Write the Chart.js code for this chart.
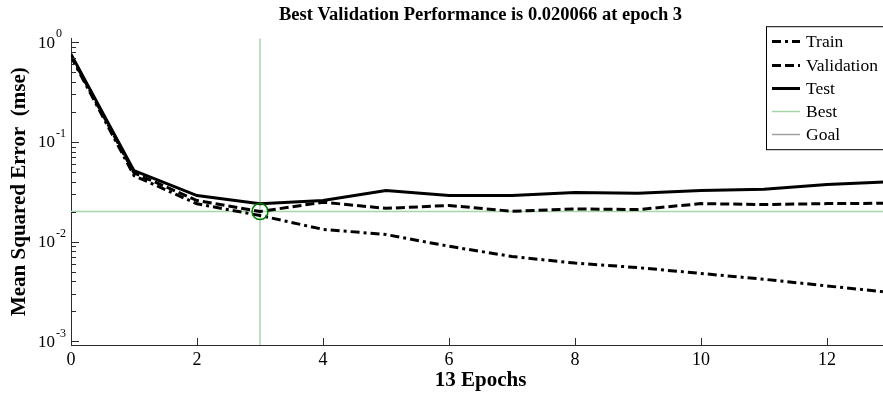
<!DOCTYPE html>
<html>
<head>
<meta charset="utf-8">
<script src="https://cdn.jsdelivr.net/npm/chart.js@4.4.1/dist/chart.umd.min.js"></script>
<style>
    html, body { margin: 0; padding: 0; background: #fff; overflow: hidden; }
    #moldura { position: absolute; left: 0; top: 0; width: 900px; height: 396px; }
</style>
</head>
<body>
<div id="moldura"><canvas id="graficoDesempenho" width="900" height="396"></canvas></div>
<script>
// valores (mse por epoca)
const epocas = [0, 1, 2, 3, 4, 5, 6, 7, 8, 9, 10, 11, 12, 13];
const mseTreino = [0.72, 0.046, 0.024, 0.0183, 0.0133, 0.0118, 0.009, 0.0071, 0.0061, 0.0055, 0.0048, 0.0042, 0.0036, 0.0031];
const mseValidacao = [0.74, 0.049, 0.0259, 0.020066, 0.0249, 0.0216, 0.0231, 0.0202, 0.0213, 0.021, 0.0241, 0.0236, 0.0241, 0.0243];
const mseTeste = [0.76, 0.0516, 0.029, 0.024, 0.0259, 0.0326, 0.029, 0.029, 0.0311, 0.0307, 0.0326, 0.0335, 0.0374, 0.04];
const melhorEpoca = 3;
const melhorDesempenho = 0.020066;
const yTicks = [1, 0.1, 0.01, 0.001];
const xTicks = [0, 2, 4, 6, 8, 10, 12];
const yMin = 0.00092;
const yMax = 1.1;
const xMax = 13;

const serifa = "'Liberation Serif', 'Times New Roman', serif";
const corEixo = '#2b2b2b';

function pontos(valores) {
    return epocas.map((e, i) => ({x: e, y: valores[i]}));
}

// ticks para dentro, rotulos 10^n e legenda com caixa
const pluginEixos = {
    id: 'eixosMatlab',
    afterDraw(chart) {
        const ctx = chart.ctx;
        const area = chart.chartArea;
        const sx = chart.scales.x;
        const sy = chart.scales.y;
        ctx.save();
        ctx.strokeStyle = corEixo;
        ctx.lineWidth = 1;
        ctx.beginPath();
        xTicks.forEach(v => {
            const px = Math.round(sx.getPixelForValue(v)) + 0.5;
            ctx.moveTo(px, area.bottom);
            ctx.lineTo(px, area.bottom - 7);
        });
        for (let d = -3; d <= 0; d++) {
            for (let m = 1; m <= 9; m++) {
                const v = m * Math.pow(10, d);
                if (v < yMin || v > yMax) continue;
                const py = Math.round(sy.getPixelForValue(v)) + 0.5;
                ctx.moveTo(area.left, py);
                ctx.lineTo(area.left + (m === 1 ? 8 : 5), py);
            }
        }
        ctx.stroke();

        ctx.fillStyle = '#000';
        ctx.textBaseline = 'middle';
        ctx.textAlign = 'left';
        yTicks.forEach(v => {
            const py = sy.getPixelForValue(v);
            const exp = Math.round(Math.log10(v));
            ctx.font = '17px ' + serifa;
            ctx.fillText('10', 38, py + 1);
            const w = ctx.measureText('10').width;
            ctx.font = '12px ' + serifa;
            ctx.fillText(String(exp), 38 + w + 1, py - 8);
        });

        // legenda
        const lx = area.right - 124;
        const ly = area.top - 12;
        ctx.fillStyle = '#fff';
        ctx.fillRect(lx, ly, 140, 123);
        ctx.strokeStyle = '#000';
        ctx.lineWidth = 1;
        ctx.strokeRect(lx + 0.5, ly + 0.5, 140, 123);
        const itens = chart.data.datasets.filter(ds => ds.naLegenda);
        itens.forEach((ds, i) => {
            const y = Math.round(ly + 15 + i * 23.3) + 0.5;
            ctx.strokeStyle = ds.borderColor;
            ctx.lineWidth = ds.borderWidth;
            ctx.setLineDash(ds.borderDash || []);
            ctx.beginPath();
            ctx.moveTo(lx + 6, y);
            ctx.lineTo(lx + 34, y);
            ctx.stroke();
            ctx.setLineDash([]);
            ctx.fillStyle = '#000';
            ctx.font = '17.5px ' + serifa;
            ctx.textBaseline = 'middle';
            ctx.fillText(ds.label, lx + 40, y + 1);
        });
        ctx.restore();
    }
};

const ctx = document.getElementById('graficoDesempenho').getContext('2d');

new Chart(ctx, {
    type: 'line',
    data: {
        datasets: [
            {
                label: 'Melhor ponto',
                data: [{x: melhorEpoca, y: melhorDesempenho}],
                showLine: false,
                pointRadius: 8,
                pointBorderWidth: 1.5,
                pointBorderColor: '#008000',
                pointBackgroundColor: 'rgba(0,0,0,0)',
                borderColor: '#008000',
                order: 0
            },
            {
                label: 'Train',
                naLegenda: true,
                data: pontos(mseTreino),
                borderColor: '#000',
                borderWidth: 3,
                borderDash: [9, 4, 3, 4],
                pointRadius: 0,
                order: 1
            },
            {
                label: 'Validation',
                naLegenda: true,
                data: pontos(mseValidacao),
                borderColor: '#000',
                borderWidth: 3,
                borderDash: [9, 4],
                pointRadius: 0,
                order: 2
            },
            {
                label: 'Test',
                naLegenda: true,
                data: pontos(mseTeste),
                borderColor: '#000',
                borderWidth: 3,
                pointRadius: 0,
                order: 3
            },
            {
                label: 'Best',
                naLegenda: true,
                data: [{x: 0, y: melhorDesempenho}, {x: xMax, y: melhorDesempenho}],
                borderColor: '#a8d5a8',
                borderWidth: 1.5,
                pointRadius: 0,
                order: 5
            },
            {
                label: 'Best vertical',
                data: [{x: melhorEpoca, y: yMin}, {x: melhorEpoca, y: yMax}],
                borderColor: '#a8d5a8',
                borderWidth: 1.5,
                pointRadius: 0,
                order: 5
            },
            {
                label: 'Goal',
                naLegenda: true,
                data: [],
                borderColor: '#a0a0a0',
                borderWidth: 1.5,
                pointRadius: 0,
                order: 6
            }
        ]
    },
    options: {
        responsive: false,
        animation: false,
        events: [],
        layout: {
            padding: {left: 0, right: 10, top: 0, bottom: 0}
        },
        plugins: {
            legend: {display: false},
            tooltip: {enabled: false},
            title: {
                display: true,
                fullSize: false,
                text: 'Best Validation Performance is 0.020066 at epoch 3',
                color: '#000',
                font: {family: serifa, size: 18.5, weight: 'bold'},
                padding: {top: 4, bottom: 12}
            }
        },
        scales: {
            x: {
                type: 'linear',
                min: 0,
                max: xMax,
                afterFit(scale) { scale.height = 51; },
                afterBuildTicks(scale) { scale.ticks = xTicks.map(v => ({value: v})); },
                grid: {display: false, drawTicks: false},
                border: {display: true, color: corEixo, width: 1},
                ticks: {
                    color: '#000',
                    font: {family: serifa, size: 18},
                    padding: 4,
                    maxRotation: 0
                },
                title: {
                    display: true,
                    text: '13 Epochs',
                    color: '#000',
                    font: {family: serifa, size: 21, weight: 'bold'},
                    padding: {top: 0, bottom: 3}
                }
            },
            y: {
                type: 'logarithmic',
                min: yMin,
                max: yMax,
                afterFit(scale) { scale.width = 71; },
                afterBuildTicks(scale) { scale.ticks = yTicks.map(v => ({value: v})); },
                grid: {display: false, drawTicks: false},
                border: {display: true, color: corEixo, width: 1},
                ticks: {display: false},
                title: {
                    display: true,
                    text: 'Mean Squared Error  (mse)',
                    color: '#000',
                    font: {family: serifa, size: 21, weight: 'bold'},
                    padding: {top: 7, bottom: 0}
                }
            }
        }
    },
    plugins: [pluginEixos]
});
</script>
</body>
</html>
